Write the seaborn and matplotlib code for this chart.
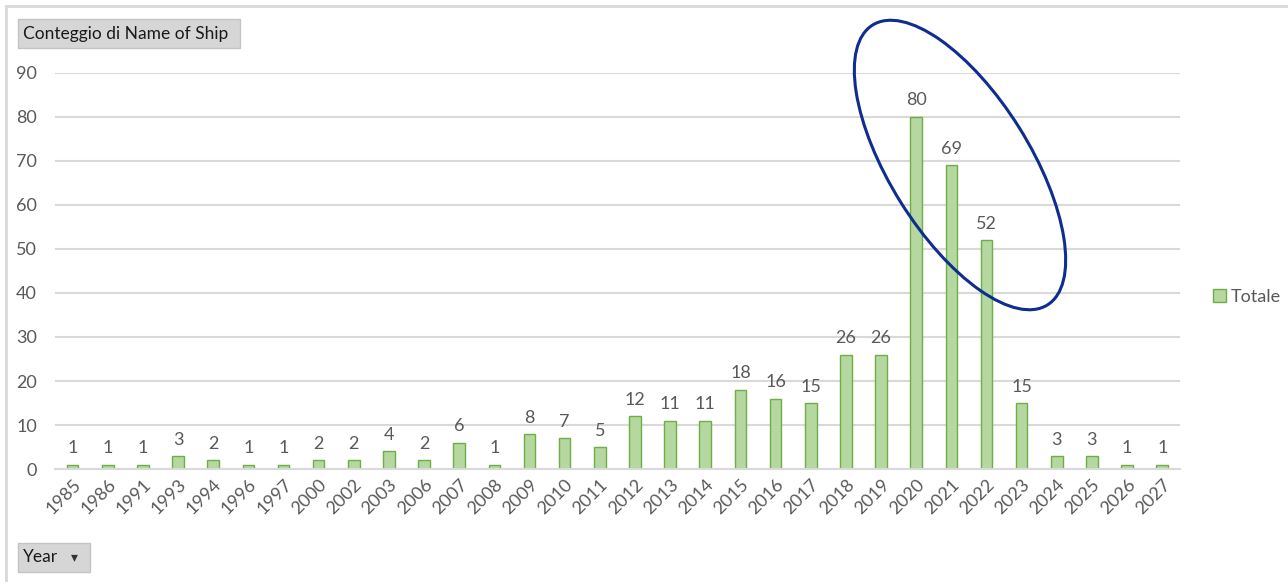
import matplotlib
matplotlib.use("Agg")
import matplotlib.pyplot as plt
import seaborn as sns
import pandas as pd
from matplotlib.patches import Ellipse, Rectangle
from matplotlib.lines import Line2D

# dati
years = ["1985", "1986", "1991", "1993", "1994", "1996", "1997", "2000", "2002", "2003",
         "2006", "2007", "2008", "2009", "2010", "2011", "2012", "2013", "2014", "2015",
         "2016", "2017", "2018", "2019", "2020", "2021", "2022", "2023", "2024", "2025",
         "2026", "2027"]
counts = [1, 1, 1, 3, 2, 1, 1, 2, 2, 4,
          2, 6, 1, 8, 7, 5, 12, 11, 11, 18,
          16, 15, 26, 26, 80, 69, 52, 15, 3, 3,
          1, 1]
yticks = [0, 10, 20, 30, 40, 50, 60, 70, 80, 90]

df = pd.DataFrame({"Year": years, "Totale": counts})

sns.set_theme(style="white")
plt.rcParams["font.family"] = ["Lato", "DejaVu Sans"]

gray_txt = "#595959"
grid_col = "#d9d9d9"
bar_fill = "#b4d8a0"
bar_edge = "#70ad47"

fig = plt.figure(figsize=(12.88, 5.82), dpi=100)
ax = fig.add_axes([0.0427, 0.194, 0.8733, 0.681])

sns.barplot(data=df, x="Year", y="Totale", order=years, color=bar_fill,
            edgecolor=bar_edge, linewidth=1, width=0.33, saturation=1, ax=ax,
            label="Totale")

ax.bar_label(ax.containers[0], fmt="%d", padding=6, fontsize=13, color=gray_txt)

ax.set_ylim(0, 90)
ax.set_xlim(-0.5, len(years) - 0.5)
ax.set_yticks(yticks)
ax.yaxis.grid(True, color=grid_col, linewidth=1.5)
ax.set_axisbelow(True)
for s in ["top", "right", "left"]:
    ax.spines[s].set_visible(False)
ax.spines["bottom"].set_color(grid_col)
ax.spines["bottom"].set_linewidth(1.5)
ax.tick_params(axis="y", length=0, pad=13, labelsize=13, labelcolor=gray_txt)
ax.tick_params(axis="x", length=0, pad=5, labelsize=13, labelcolor=gray_txt)
plt.setp(ax.get_xticklabels(), rotation=45, ha="right", rotation_mode="anchor")
ax.set_xlabel("")
ax.set_ylabel("")

ax.legend(loc="center left", bbox_to_anchor=(1.015, 0.434), frameon=False,
          fontsize=13, labelcolor=gray_txt, handlelength=0.7, handleheight=0.7,
          handletextpad=0.3)

# ellisse blu sulle barre 2020-2022 (coordinate in pollici della figura)
ell = Ellipse((9.60, 4.17), width=3.30, height=1.40, angle=-58,
              transform=fig.dpi_scale_trans, fill=False, edgecolor="#0e2d8f",
              linewidth=2.2)
fig.patches.append(ell)

# bordo grigio della figura
fig.lines.append(Line2D([0.06, 12.88], [5.76, 5.76], transform=fig.dpi_scale_trans,
                        color="#d9d9d9", linewidth=2))
fig.lines.append(Line2D([0.06, 0.06], [0, 5.76], transform=fig.dpi_scale_trans,
                        color="#d9d9d9", linewidth=2))

# pulsanti del campo pivot
def pivot_button(x, y, w, h, label, arrow=False):
    r = Rectangle((x, y), w, h, transform=fig.dpi_scale_trans,
                  facecolor="#d6d6d6", edgecolor="#c4c4c4", linewidth=1)
    fig.patches.append(r)
    fig.text(x + 0.05, y + h / 2, label, transform=fig.dpi_scale_trans,
             ha="left", va="center", fontsize=12.5, color="#1a1a1a")
    if arrow:
        fig.text(x + w - 0.16, y + h / 2, "\u25be", transform=fig.dpi_scale_trans,
                 ha="center", va="center", fontsize=10, color="#333333",
                 family=["DejaVu Sans"])

pivot_button(0.18, 5.34, 2.22, 0.29, "Conteggio di Name of Ship")
pivot_button(0.18, 0.10, 0.72, 0.29, "Year", arrow=True)

fig.savefig("out.png", dpi=100)
